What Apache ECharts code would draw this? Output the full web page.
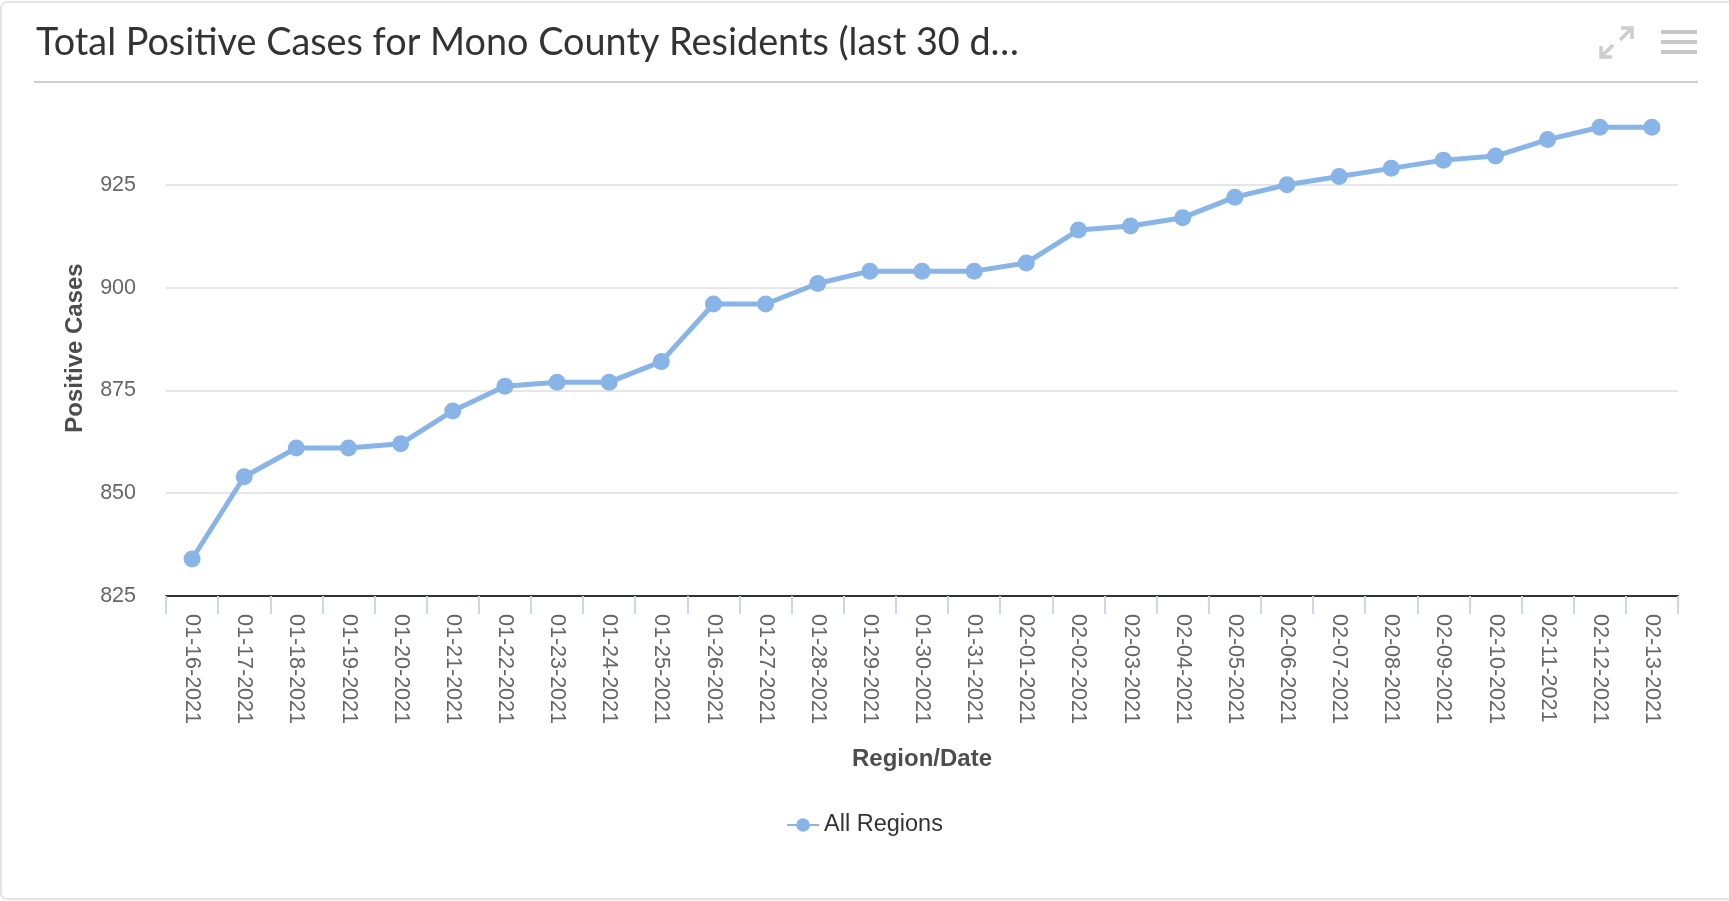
<!DOCTYPE html>
<html>
<head>
<meta charset="utf-8">
<title>Total Positive Cases for Mono County Residents</title>
<script src="https://cdn.jsdelivr.net/npm/echarts@6/dist/echarts.min.js"></script>
<style>
  html, body { margin: 0; padding: 0; background: #fff; }
  #main { width: 1729px; height: 901px; }
</style>
</head>
<body>
<div id="main"></div>
<script>
// dates on the x axis
var dates = ['01-16-2021', '01-17-2021', '01-18-2021', '01-19-2021', '01-20-2021', '01-21-2021', '01-22-2021',
  '01-23-2021', '01-24-2021', '01-25-2021', '01-26-2021', '01-27-2021', '01-28-2021', '01-29-2021',
  '01-30-2021', '01-31-2021', '02-01-2021', '02-02-2021', '02-03-2021', '02-04-2021', '02-05-2021',
  '02-06-2021', '02-07-2021', '02-08-2021', '02-09-2021', '02-10-2021', '02-11-2021', '02-12-2021',
  '02-13-2021'];

// cumulative positive cases
var positiveCases = [834, 854, 861, 861, 862, 870, 876, 877, 877, 882, 896, 896, 901, 904,
  904, 904, 906, 914, 915, 917, 922, 925, 927, 929, 931, 932, 936, 939, 939];

var seriesName = 'All Regions';
var yTicks = { min: 825, max: 950, step: 25 };

var lineColor = '#88b4e7';
var axisFont = '"Liberation Sans", Arial, Helvetica, sans-serif';

var myChart = echarts.init(document.getElementById('main'));

var option = {
  animation: false,
  title: {
    text: 'Total Positive Cases for Mono County Residents (last 30 d\u2026',
    left: 31,
    top: 19,
    textStyle: {
      fontFamily: 'Lato, sans-serif',
      fontSize: 37.8,
      fontWeight: 'normal',
      color: '#333'
    }
  },
  legend: {
    data: [seriesName],
    left: 'center',
    top: 808,
    itemWidth: 32,
    itemHeight: 17,
    itemGap: 10,
    textStyle: {
      fontFamily: axisFont,
      fontSize: 23.5,
      color: '#333'
    }
  },
  grid: {
    left: 166,
    right: 51,
    top: 82,
    bottom: 305,
    containLabel: false,
    outerBoundsMode: 'none'
  },
  xAxis: {
    type: 'category',
    data: dates,
    boundaryGap: true,
    name: 'Region/Date',
    nameLocation: 'middle',
    nameGap: 151,
    nameTextStyle: {
      fontFamily: axisFont,
      fontSize: 24,
      fontWeight: 'bold',
      color: '#4d4d4d'
    },
    axisLine: { lineStyle: { color: '#333', width: 2 } },
    axisTick: {
      show: true,
      length: 18,
      lineStyle: { color: '#ccd6eb', width: 2 }
    },
    axisLabel: {
      interval: 0,
      rotate: -90,
      margin: 18,
      fontFamily: axisFont,
      fontSize: 21.5,
      color: '#666'
    }
  },
  yAxis: {
    type: 'value',
    min: yTicks.min,
    max: yTicks.max,
    interval: yTicks.step,
    name: 'Positive Cases',
    nameLocation: 'middle',
    nameGap: 79,
    nameTextStyle: {
      fontFamily: axisFont,
      fontSize: 24,
      fontWeight: 'bold',
      color: '#4d4d4d',
      padding: [0, 18, 0, 0]
    },
    axisLine: { show: false },
    axisTick: { show: false },
    axisLabel: {
      margin: 30,
      showMaxLabel: false,
      fontFamily: axisFont,
      fontSize: 21.5,
      color: '#666'
    },
    splitLine: {
      showMinLine: false,
      showMaxLine: false,
      lineStyle: { color: '#e6e6e6', width: 2 }
    }
  },
  series: [
    {
      name: seriesName,
      type: 'line',
      data: positiveCases,
      symbol: 'circle',
      symbolSize: 17,
      showSymbol: true,
      itemStyle: { color: lineColor },
      lineStyle: { color: lineColor, width: 5 },
      emphasis: { disabled: true }
    }
  ],
  graphic: [
    // card border
    {
      type: 'rect',
      silent: true,
      shape: { x: 1, y: 2, width: 1760, height: 897, r: 6 },
      style: { fill: 'none', stroke: '#e4e4e4', lineWidth: 2 }
    },
    // header separator
    {
      type: 'line',
      silent: true,
      shape: { x1: 34, y1: 82, x2: 1698, y2: 82 },
      style: { stroke: '#cfcfcf', lineWidth: 2 }
    },
    // expand icon
    {
      type: 'polyline',
      silent: true,
      shape: { points: [[1601, 46], [1601, 57], [1612, 57]] },
      style: { fill: 'none', stroke: '#cdcdcd', lineWidth: 3.5 }
    },
    {
      type: 'line',
      silent: true,
      shape: { x1: 1601, y1: 57, x2: 1613, y2: 45 },
      style: { stroke: '#cdcdcd', lineWidth: 3.5 }
    },
    {
      type: 'polyline',
      silent: true,
      shape: { points: [[1621, 28], [1632, 28], [1632, 39]] },
      style: { fill: 'none', stroke: '#cdcdcd', lineWidth: 3.5 }
    },
    {
      type: 'line',
      silent: true,
      shape: { x1: 1632, y1: 28, x2: 1620, y2: 40 },
      style: { stroke: '#cdcdcd', lineWidth: 3.5 }
    },
    // menu icon
    {
      type: 'rect',
      silent: true,
      shape: { x: 1661, y: 30, width: 36, height: 4 },
      style: { fill: '#c8c8c8' }
    },
    {
      type: 'rect',
      silent: true,
      shape: { x: 1661, y: 40, width: 36, height: 4 },
      style: { fill: '#c8c8c8' }
    },
    {
      type: 'rect',
      silent: true,
      shape: { x: 1661, y: 50, width: 36, height: 4 },
      style: { fill: '#c8c8c8' }
    }
  ]
};

myChart.setOption(option);
</script>
</body>
</html>
